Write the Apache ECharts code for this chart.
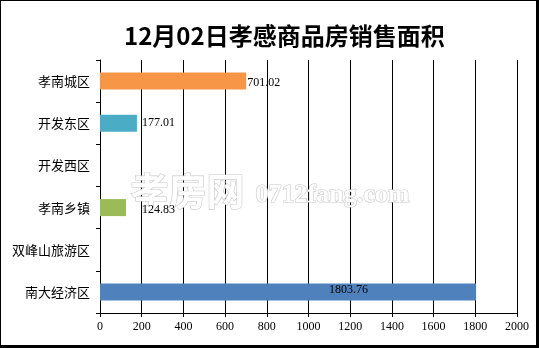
<!DOCTYPE html>
<html><head><meta charset="utf-8">
<script src="https://cdn.jsdelivr.net/npm/echarts@6/dist/echarts.min.js"></script>
<style>
html,body{margin:0;padding:0;background:#fff;}
#wrap{width:539px;height:348px;box-sizing:border-box;border-left:1px solid #000;border-top:1px solid #000;border-right:3px solid #000;border-bottom:3px solid #000;background:#fff;}
#chart{width:535px;height:344px;}
</style></head>
<body><div id="wrap"><div id="chart"></div></div>
<script>
var categories = ['孝南城区','开发东区','开发西区','孝南乡镇','双峰山旅游区','南大经济区'];
var values = [701.02, 177.01, 0, 124.83, 0, 1803.76];
var barColors = ['#F79646','#4BACC6','#4F81BD','#9BBB59','#4F81BD','#4F81BD'];
var xTicks = [0,200,400,600,800,1000,1200,1400,1600,1800,2000];
var titleText = '12月02日孝感商品房销售面积';

var labelCfg = [
  {position:'right', distance:1, offset:[0,2]},
  {position:'right', distance:5, offset:[0,0]},
  {show:false},
  {position:'right', distance:16, offset:[0,2]},
  {show:false},
  {position:'insideRight', distance:108, offset:[0,-2]}
];

var chart = echarts.init(document.getElementById('chart'), null, {renderer:'canvas'});
var data = values.map(function(v,i){
  return {value:v, itemStyle:{color:barColors[i]}, label:labelCfg[i]};
});
chart.setOption({
  backgroundColor:'#fff',
  animation:false,
  title:{text:titleText,left:118,top:18,
    textStyle:{fontFamily:'Noto Sans CJK SC',fontWeight:'bold',fontSize:24,color:'#000'}},
  grid:{left:99,right:19,top:59,bottom:32},
  xAxis:{type:'value',min:0,max:2000,interval:200,
    axisLine:{show:true,lineStyle:{color:'#000',width:1}},
    axisTick:{show:true,length:4,lineStyle:{color:'#000'}},
    axisLabel:{margin:8,color:'#000',fontFamily:'Liberation Serif',fontSize:12,
      formatter:function(v){return xTicks.indexOf(v)>=0?String(v):'';}},
    splitLine:{show:true,lineStyle:{color:'#000',width:1}}
  },
  yAxis:{type:'category',data:categories,inverse:true,
    axisLine:{show:true,lineStyle:{color:'#000',width:1}},
    axisTick:{show:true,length:4,inside:false,lineStyle:{color:'#000'}},
    axisLabel:{margin:10,color:'#000',fontFamily:'Noto Sans CJK SC',fontSize:13},
    splitLine:{show:false}
  },
  graphic:[
    {type:'text',left:129,top:170,z:1,silent:true,
      style:{text:'孝房网',fontSize:38,fontWeight:'bold',fontFamily:'Noto Sans CJK SC',fill:'#fff',stroke:'#c8c8c8',lineWidth:1.2}},
    {type:'text',left:254,top:181,z:1,silent:true,
      style:{text:'0712fang.com',fontSize:26,fontWeight:'bold',fontFamily:'Liberation Serif',fill:'#fff',stroke:'#c8c8c8',lineWidth:1.2}}
  ],
  series:[{type:'bar',data:data,barWidth:17,z:2,
    label:{show:true,color:'#000',fontFamily:'Liberation Serif',fontSize:12,
      formatter:function(p){return p.value?p.value.toFixed(2):'';}}
  }]
});
</script></body></html>
